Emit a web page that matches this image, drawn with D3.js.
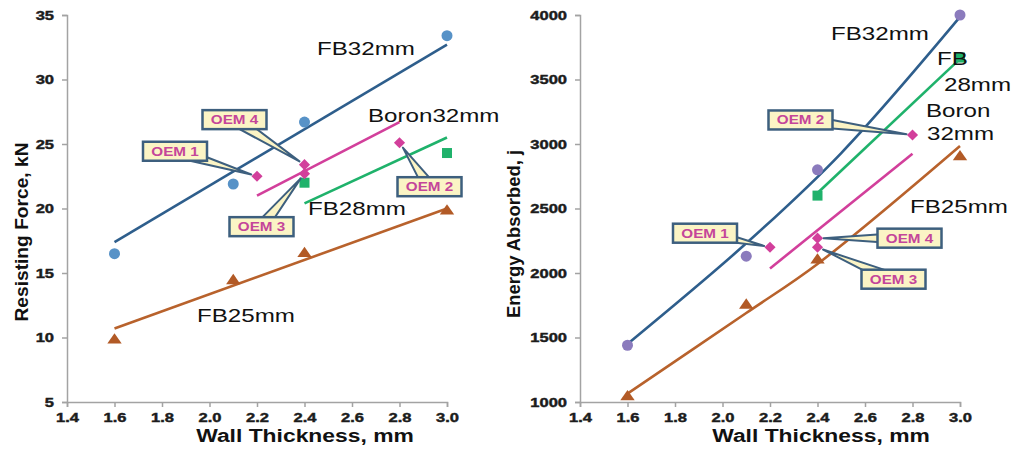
<!DOCTYPE html>
<html>
<head>
<meta charset="utf-8">
<script src="https://cdnjs.cloudflare.com/ajax/libs/d3/7.8.5/d3.min.js"></script>
<style>
body{margin:0;background:#fff;}
text{font-family:"Liberation Sans",Arial,sans-serif;}
</style>
</head>
<body>
<svg width="1018" height="450"></svg>
<script>
// data
var thickness = [1.6, 2.1, 2.4, 3.0];
var fb28X = [2.4, 3.0];
var boronX = [2.2, 2.4, 2.4, 2.8];
var oemNames = ["OEM 1", "OEM 4", "OEM 3", "OEM 2"];

var forceFB32 = [16.5, 21.9, 26.7, 33.4];
var forceFB25 = [9.8, 14.4, 16.5, 19.8];
var forceFB28 = [22.0, 24.3];
var forceBoron = [22.5, 23.4, 22.7, 25.1];

var energyFB32 = [1440, 2130, 2800, 4000];
var energyFB25 = [1040, 1750, 2100, 2900];
var energyFB28 = [2600, 3670];
var energyBoron = [2200, 2270, 2200, 3070];

// trend lines
var trendFbX = [1.6, 3.0];
var trendFb28X = [2.4, 3.0];
var trendBoronX = [2.2, 2.8];
var forceTrendFB32 = [17.4, 32.7];
var forceTrendFB25 = [10.7, 20.0];
var forceTrendFB28 = [20.4, 25.5];
var forceTrendBoron = [21.0, 26.7];

var energyTrendFB32X = [1.6, 2.1, 2.5, 3.0];
var energyTrendFB32 = [1450, 2230, 2930, 3985];
var energyTrendFB25X = [1.6, 2.1, 2.4, 3.0];
var energyTrendFB25 = [1065, 1690, 2070, 2985];
var energyTrendFB28 = [2620, 3660];
var energyTrendBoron = [2035, 2925];

var xTicks = [1.4, 1.6, 1.8, 2.0, 2.2, 2.4, 2.6, 2.8, 3.0];
var forceTicks = [5, 10, 15, 20, 25, 30, 35];
var energyTicks = [1000, 1500, 2000, 2500, 3000, 3500, 4000];

var color = {fb32: "#2e5e8c", fb25: "#b8622c", fb28: "#1fb26b", boron: "#d23f9b",
  box: "#3d5f7e", boxFill: "#fbf4c5", oemText: "#c4459a"};
var SX = 1.27;   // the source picture is stretched sideways

var svg = d3.select("svg");

function stretch(sel, k) {
  sel.each(function(){
    var L = this.getComputedTextLength();
    d3.select(this).attr("textLength", L * k).attr("lengthAdjust", "spacingAndGlyphs");
  });
}
function zip(a, b) { return a.map(function(d, i){ return [d, b[i]]; }); }

function drawChart(o) {
  var x = d3.scaleLinear().domain([1.4, 3.0]).range([o.left, o.left + 380]);
  var y = d3.scaleLinear().domain(o.yDomain).range([402, 15]);
  var g = svg.append("g");

  var ax = g.append("g").attr("transform", "translate(0,402)")
    .call(d3.axisBottom(x).tickValues(xTicks).tickFormat(d3.format(".1f")).tickSize(5).tickPadding(6));
  var ay = g.append("g").attr("transform", "translate(" + o.left + ",0)")
    .call(d3.axisLeft(y).tickValues(o.yTicks).tickFormat(d3.format("d")).tickSize(5).tickPadding(8));
  [ax, ay].forEach(function(a){
    a.attr("font-family", null).attr("font-size", null);
    a.selectAll("path,line").attr("stroke", "#a3a3a3").attr("stroke-width", 1.5);
    a.selectAll("text").attr("fill", "#1c1c1c").attr("stroke", "#1c1c1c").attr("stroke-width", 0.45)
      .style("font-size", "13px").style("font-weight", "bold");
    stretch(a.selectAll("text"), SX);
  });

  var t1 = g.append("text").attr("x", o.xTitleX).attr("y", 442).attr("text-anchor", "middle")
    .attr("font-size", 18).attr("font-weight", "bold").attr("fill", "#111").text("Wall Thickness, mm");
  stretch(t1, SX);
  g.append("text").attr("transform", "translate(" + o.yTitleX + "," + o.yTitleY + ") rotate(-90)")
    .attr("text-anchor", "middle").attr("font-size", 18).attr("font-weight", "bold").attr("fill", "#111")
    .attr("textLength", o.yTitleLen).attr("lengthAdjust", "spacingAndGlyphs").text(o.yTitle);

  o.trends.forEach(function(t){
    var line = d3.line().x(function(d){ return x(d[0]); }).y(function(d){ return y(d[1]); })
      .curve(t.curve ? d3.curveCatmullRom : d3.curveLinear);
    g.append("path").attr("d", line(t.pts))
      .attr("fill", "none").attr("stroke", t.color).attr("stroke-width", 2.6);
  });

  // markers
  g.selectAll(".c").data(o.circles).enter().append("circle")
    .attr("cx", function(d){ return x(d[0]); }).attr("cy", function(d){ return y(d[1]); })
    .attr("r", 5.5).attr("fill", o.circleColor);
  g.selectAll(".t").data(o.triangles).enter().append("path")
    .attr("d", d3.symbol().type(d3.symbolTriangle).size(62))
    .attr("transform", function(d){ return "translate(" + x(d[0]) + "," + y(d[1]) + ") scale(1.2,1)"; })
    .attr("fill", "#b25a26");
  g.selectAll(".s").data(o.squares).enter().append("rect")
    .attr("x", function(d){ return x(d[0]) - 5; }).attr("y", function(d){ return y(d[1]) - 5; })
    .attr("width", 10).attr("height", 10).attr("fill", color.fb28);

  // callouts behind the diamonds
  o.callouts.forEach(function(c, i){
    var px = x(o.diamonds[i][0]), py = y(o.diamonds[i][1]);
    var cx = px + c.dx, cy = py + c.dy, w = 64, h = 19;
    var ang = Math.atan2(py - cy, px - cx), hw = 6;
    var nx = -Math.sin(ang) * hw, ny = Math.cos(ang) * hw;
    var tipX = px - Math.cos(ang) * 6, tipY = py - Math.sin(ang) * 6;
    g.append("path")
      .attr("d", "M" + (cx + nx) + "," + (cy + ny) + "L" + tipX + "," + tipY + "L" + (cx - nx) + "," + (cy - ny) + "Z")
      .attr("fill", color.boxFill).attr("stroke", color.box).attr("stroke-width", 2).attr("stroke-linejoin", "round");
    g.append("rect").attr("x", cx - w / 2).attr("y", cy - h / 2).attr("width", w).attr("height", h)
      .attr("fill", color.boxFill).attr("stroke", color.box).attr("stroke-width", 2.5);
    var tt = g.append("text").attr("x", cx).attr("y", cy + 4.5).attr("text-anchor", "middle")
      .attr("font-size", 12).attr("font-weight", "bold").attr("fill", color.oemText).text(oemNames[i]);
    stretch(tt, SX);
  });

  g.selectAll(".d").data(o.diamonds).enter().append("path")
    .attr("d", d3.symbol().type(d3.symbolSquare).size(62))
    .attr("transform", function(d){ return "translate(" + x(d[0]) + "," + y(d[1]) + ") rotate(45)"; })
    .attr("fill", color.boron);

  o.labels.forEach(function(l){
    var t = g.append("text").attr("x", l.x).attr("y", l.y).attr("font-size", 19).attr("fill", "#111").text(l.text);
    stretch(t, SX);
  });
}

drawChart({
  left: 67, yDomain: [5, 35], yTicks: forceTicks,
  yTitle: "Resisting Force, kN", yTitleX: 28, yTitleY: 232, yTitleLen: 179, xTitleX: 305,
  circleColor: "#5792c7",
  circles: zip(thickness, forceFB32),
  triangles: zip(thickness, forceFB25),
  squares: zip(fb28X, forceFB28),
  diamonds: zip(boronX, forceBoron),
  trends: [
    {pts: zip(trendFbX, forceTrendFB32), color: color.fb32},
    {pts: zip(trendFbX, forceTrendFB25), color: color.fb25},
    {pts: zip(trendFb28X, forceTrendFB28), color: color.fb28},
    {pts: zip(trendBoronX, forceTrendBoron), color: color.boron}
  ],
  callouts: [{dx: -82, dy: -25}, {dx: -70, dy: -45}, {dx: -43, dy: 53}, {dx: 30, dy: 44}],
  labels: [
    {text: "FB32mm", x: 317, y: 55},
    {text: "Boron32mm", x: 368, y: 122},
    {text: "FB28mm", x: 308, y: 215},
    {text: "FB25mm", x: 197, y: 322}
  ]
});

drawChart({
  left: 580, yDomain: [1000, 4000], yTicks: energyTicks,
  yTitle: "Energy Absorbed, j", yTitleX: 520, yTitleY: 234, yTitleLen: 168, xTitleX: 821,
  circleColor: "#8b7bbd",
  circles: zip(thickness, energyFB32),
  triangles: zip(thickness, energyFB25),
  squares: zip(fb28X, energyFB28),
  diamonds: zip(boronX, energyBoron),
  trends: [
    {pts: zip(energyTrendFB32X, energyTrendFB32), color: color.fb32, curve: true},
    {pts: zip(energyTrendFB25X, energyTrendFB25), color: color.fb25, curve: true},
    {pts: zip(trendFb28X, energyTrendFB28), color: color.fb28},
    {pts: zip(trendBoronX, energyTrendBoron), color: color.boron}
  ],
  callouts: [{dx: -65, dy: -14}, {dx: 92, dy: 0}, {dx: 76, dy: 32}, {dx: -112, dy: -15}],
  labels: [
    {text: "FB32mm", x: 831, y: 40},
    {text: "FB", x: 937, y: 65},
    {text: "28mm", x: 944, y: 91},
    {text: "Boron", x: 926, y: 117},
    {text: "32mm", x: 927, y: 140},
    {text: "FB25mm", x: 910, y: 213}
  ]
});
</script>
</body>
</html>
